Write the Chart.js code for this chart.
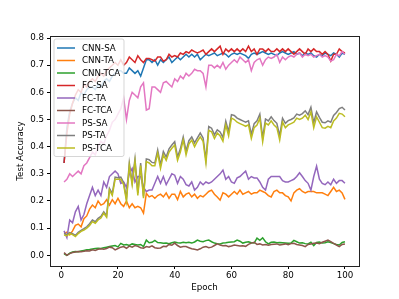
<!DOCTYPE html>
<html>
<head>
<meta charset="utf-8">
<script src="https://cdn.jsdelivr.net/npm/chart.js@4.4.1/dist/chart.umd.min.js"></script>
<style>
  html, body { margin: 0; padding: 0; background: #fff; }
</style>
</head>
<body>
<canvas id="accChart" width="399" height="299"></canvas>
<script>
// Test accuracy per epoch

const epochs = Array.from({ length: 100 }, (_, i) => i + 1);
const xTicks = [0, 20, 40, 60, 80, 100];
const yTicks = [0.0, 0.1, 0.2, 0.3, 0.4, 0.5, 0.6, 0.7, 0.8];

const cnnSA = [
    0.34, 0.47, 0.53, 0.56, 0.58, 0.57, 0.60, 0.59, 0.61, 0.62,
    0.62, 0.61, 0.63, 0.62, 0.64, 0.65, 0.64, 0.66, 0.67, 0.68,
    0.68, 0.67, 0.67, 0.69, 0.68, 0.67, 0.68, 0.66, 0.69, 0.72,
    0.72, 0.71, 0.72, 0.70, 0.72, 0.71, 0.72, 0.73, 0.71, 0.72,
    0.73, 0.72, 0.73, 0.74, 0.73, 0.74, 0.73, 0.74, 0.72, 0.73,
    0.74, 0.735, 0.74, 0.745, 0.735, 0.74, 0.745, 0.74, 0.73, 0.74,
    0.745, 0.74, 0.745, 0.74, 0.735, 0.725, 0.74, 0.745, 0.74, 0.745,
    0.75, 0.745, 0.74, 0.745, 0.74, 0.735, 0.745, 0.75, 0.745, 0.74,
    0.745, 0.75, 0.74, 0.745, 0.735, 0.745, 0.74, 0.745, 0.735, 0.73,
    0.74, 0.735, 0.745, 0.74, 0.735, 0.745, 0.74, 0.73, 0.745, 0.74
];
const cnnTA = [
    0.08, 0.085, 0.075, 0.09, 0.11, 0.115, 0.105, 0.135, 0.145, 0.17,
    0.185, 0.175, 0.20, 0.185, 0.19, 0.205, 0.185, 0.205, 0.19, 0.21,
    0.19, 0.18, 0.20, 0.175, 0.19, 0.175, 0.18, 0.175, 0.155, 0.228,
    0.215, 0.22, 0.21, 0.22, 0.225, 0.215, 0.23, 0.21, 0.225, 0.225,
    0.205, 0.235, 0.215, 0.225, 0.23, 0.215, 0.225, 0.21, 0.22, 0.215,
    0.225, 0.235, 0.24, 0.225, 0.215, 0.203, 0.23, 0.225, 0.215, 0.225,
    0.235, 0.225, 0.24, 0.225, 0.23, 0.235, 0.225, 0.23, 0.23, 0.24,
    0.235, 0.23, 0.22, 0.215, 0.235, 0.24, 0.23, 0.23, 0.22, 0.215,
    0.20, 0.23, 0.24, 0.245, 0.235, 0.23, 0.235, 0.235, 0.235, 0.23,
    0.23, 0.23, 0.225, 0.22, 0.235, 0.25, 0.235, 0.24, 0.23, 0.206
];
const cnnTCA = [
    0.005, 0.0, 0.008, 0.012, 0.014, 0.013, 0.016, 0.018, 0.020, 0.021,
    0.023, 0.025, 0.026, 0.025, 0.028, 0.030, 0.032, 0.034, 0.036, 0.031,
    0.044, 0.038, 0.040, 0.036, 0.042, 0.040, 0.038, 0.040, 0.032, 0.056,
    0.046, 0.048, 0.055, 0.047, 0.046, 0.044, 0.045, 0.043, 0.046, 0.049,
    0.046, 0.045, 0.048, 0.046, 0.048, 0.045, 0.049, 0.056, 0.052, 0.050,
    0.054, 0.056, 0.050, 0.045, 0.043, 0.042, 0.045, 0.046, 0.048, 0.049,
    0.050, 0.056, 0.052, 0.045, 0.048, 0.050, 0.046, 0.045, 0.063, 0.055,
    0.064, 0.050, 0.042, 0.048, 0.049, 0.046, 0.047, 0.046, 0.045, 0.044,
    0.045, 0.055, 0.050, 0.045, 0.046, 0.043, 0.042, 0.048, 0.036, 0.047,
    0.049, 0.045, 0.046, 0.050, 0.047, 0.043, 0.040, 0.038, 0.047, 0.050
];
const fcSA = [
    0.34, 0.45, 0.52, 0.56, 0.59, 0.61, 0.60, 0.63, 0.62, 0.64,
    0.65, 0.64, 0.66, 0.67, 0.66, 0.68, 0.69, 0.70, 0.71, 0.70,
    0.72, 0.70, 0.71, 0.73, 0.72, 0.71, 0.735, 0.72, 0.71, 0.725,
    0.725, 0.72, 0.715, 0.73, 0.73, 0.715, 0.72, 0.74, 0.73, 0.735,
    0.73, 0.745, 0.74, 0.75, 0.745, 0.756, 0.75, 0.745, 0.75, 0.756,
    0.74, 0.75, 0.76, 0.75, 0.76, 0.77, 0.74, 0.76, 0.75, 0.76,
    0.75, 0.76, 0.75, 0.76, 0.75, 0.77, 0.75, 0.76, 0.74, 0.76,
    0.76, 0.75, 0.76, 0.75, 0.75, 0.76, 0.75, 0.76, 0.75, 0.76,
    0.75, 0.74, 0.75, 0.76, 0.75, 0.74, 0.76, 0.75, 0.76, 0.75,
    0.75, 0.74, 0.75, 0.74, 0.715, 0.74, 0.74, 0.76, 0.75, 0.745
];
const fcTA = [
    0.09, 0.065, 0.13, 0.12, 0.16, 0.18, 0.13, 0.15, 0.19, 0.22,
    0.25, 0.22, 0.24, 0.22, 0.27, 0.25, 0.29, 0.30, 0.31, 0.30,
    0.265, 0.27, 0.25, 0.30, 0.32, 0.27, 0.29, 0.29, 0.25, 0.235,
    0.24, 0.24, 0.265, 0.29, 0.265, 0.29, 0.26, 0.28, 0.30, 0.295,
    0.265, 0.29, 0.28, 0.26, 0.255, 0.27, 0.24, 0.25, 0.27, 0.26,
    0.27, 0.265, 0.27, 0.28, 0.29, 0.30, 0.314, 0.28, 0.29, 0.27,
    0.265, 0.285, 0.29, 0.30, 0.31, 0.28, 0.29, 0.285, 0.285, 0.27,
    0.25, 0.24, 0.28, 0.29, 0.29, 0.29, 0.29, 0.275, 0.27, 0.27,
    0.275, 0.28, 0.29, 0.304, 0.29, 0.275, 0.265, 0.24, 0.29, 0.328,
    0.28, 0.265, 0.26, 0.27, 0.26, 0.28, 0.265, 0.275, 0.275, 0.265
];
const fcTCA = [
    0.010, 0.0, 0.006, 0.010, 0.012, 0.014, 0.013, 0.015, 0.017, 0.016,
    0.020, 0.018, 0.022, 0.024, 0.022, 0.025, 0.030, 0.028, 0.020, 0.025,
    0.030, 0.032, 0.026, 0.034, 0.030, 0.036, 0.033, 0.028, 0.026, 0.032,
    0.030, 0.035, 0.028, 0.026, 0.027, 0.033, 0.032, 0.040, 0.037, 0.045,
    0.036, 0.030, 0.032, 0.032, 0.028, 0.024, 0.022, 0.020, 0.024, 0.030,
    0.032, 0.028, 0.030, 0.036, 0.042, 0.038, 0.035, 0.036, 0.032, 0.034,
    0.038, 0.036, 0.034, 0.035, 0.033, 0.040, 0.045, 0.048, 0.040, 0.042,
    0.038, 0.040, 0.037, 0.040, 0.041, 0.042, 0.038, 0.040, 0.042, 0.039,
    0.043, 0.044, 0.040, 0.038, 0.036, 0.032, 0.040, 0.042, 0.044, 0.045,
    0.043, 0.048, 0.052, 0.056, 0.050, 0.044, 0.038, 0.032, 0.040, 0.042
];
const psSA = [
    0.27, 0.28, 0.30, 0.29, 0.30, 0.31, 0.30, 0.33, 0.34, 0.36,
    0.38, 0.37, 0.40, 0.42, 0.41, 0.44, 0.46, 0.49, 0.50, 0.52,
    0.54, 0.58, 0.50, 0.57, 0.60, 0.59, 0.58, 0.62, 0.635, 0.535,
    0.54, 0.62, 0.62, 0.61, 0.60, 0.635, 0.64, 0.63, 0.62, 0.65,
    0.64, 0.66, 0.65, 0.67, 0.66, 0.67, 0.685, 0.68, 0.68, 0.67,
    0.62, 0.70, 0.70, 0.69, 0.70, 0.69, 0.71, 0.685, 0.70, 0.71,
    0.72, 0.71, 0.73, 0.72, 0.71, 0.72, 0.68, 0.71, 0.72, 0.725,
    0.70, 0.72, 0.73, 0.725, 0.73, 0.74, 0.71, 0.73, 0.72, 0.73,
    0.735, 0.73, 0.74, 0.745, 0.73, 0.74, 0.735, 0.74, 0.73, 0.735,
    0.74, 0.73, 0.735, 0.73, 0.715, 0.72, 0.74, 0.735, 0.75, 0.74
];
const psTA = [
    0.080, 0.076, 0.084, 0.080, 0.073, 0.085, 0.092, 0.098, 0.105, 0.116,
    0.130, 0.124, 0.136, 0.143, 0.160, 0.146, 0.246, 0.228, 0.288, 0.286,
    0.288, 0.268, 0.208, 0.340, 0.268, 0.355, 0.230, 0.340, 0.218, 0.355,
    0.352, 0.342, 0.340, 0.388, 0.332, 0.382, 0.362, 0.392, 0.406, 0.418,
    0.362, 0.392, 0.436, 0.384, 0.422, 0.436, 0.414, 0.432, 0.450, 0.432,
    0.352, 0.474, 0.468, 0.444, 0.462, 0.454, 0.434, 0.494, 0.455, 0.518,
    0.515, 0.505, 0.500, 0.495, 0.490, 0.495, 0.445, 0.485, 0.495, 0.520,
    0.432, 0.502, 0.495, 0.510, 0.496, 0.486, 0.440, 0.505, 0.486, 0.496,
    0.500, 0.506, 0.520, 0.516, 0.522, 0.532, 0.518, 0.545, 0.488, 0.528,
    0.508, 0.490, 0.488, 0.495, 0.490, 0.515, 0.526, 0.540, 0.545, 0.535
];
const psTCA = [
    0.075, 0.072, 0.080, 0.076, 0.069, 0.080, 0.088, 0.093, 0.100, 0.110,
    0.124, 0.118, 0.130, 0.137, 0.155, 0.140, 0.240, 0.220, 0.280, 0.280,
    0.280, 0.260, 0.200, 0.330, 0.260, 0.345, 0.220, 0.330, 0.210, 0.345,
    0.340, 0.330, 0.330, 0.376, 0.320, 0.370, 0.350, 0.380, 0.394, 0.406,
    0.350, 0.380, 0.424, 0.370, 0.410, 0.424, 0.400, 0.420, 0.436, 0.420,
    0.340, 0.460, 0.455, 0.430, 0.450, 0.440, 0.420, 0.480, 0.440, 0.505,
    0.500, 0.490, 0.485, 0.480, 0.475, 0.480, 0.430, 0.470, 0.480, 0.505,
    0.418, 0.487, 0.480, 0.495, 0.480, 0.470, 0.424, 0.490, 0.470, 0.480,
    0.485, 0.490, 0.505, 0.500, 0.505, 0.516, 0.500, 0.528, 0.470, 0.510,
    0.490, 0.470, 0.468, 0.475, 0.470, 0.495, 0.505, 0.523, 0.520, 0.510
];

const seriesNames = ['CNN-SA', 'CNN-TA', 'CNN-TCA', 'FC-SA', 'FC-TA', 'FC-TCA', 'PS-SA', 'PS-TA', 'PS-TCA'];
const seriesData = [cnnSA, cnnTA, cnnTCA, fcSA, fcTA, fcTCA, psSA, psTA, psTCA];
const seriesColors = ['#1f77b4', '#ff7f0e', '#2ca02c', '#d62728', '#9467bd', '#8c564b', '#e377c2', '#7f7f7f', '#bcbd22'];

Chart.defaults.font.family = '"DejaVu Sans", sans-serif';
Chart.defaults.font.size = 8.7;
Chart.defaults.color = '#000';

// frame around the plot area (all four spines)
const framePlugin = {
    id: 'frame',
    afterDatasetsDraw(chart) {
        const { ctx, chartArea: a } = chart;
        ctx.save();
        ctx.strokeStyle = '#222';
        ctx.lineWidth = 1;
        ctx.strokeRect(Math.round(a.left) + 0.5, Math.round(a.top) + 0.5,
            Math.round(a.right - a.left), Math.round(a.bottom - a.top));
        ctx.restore();
    }
};

// matplotlib-like legend box in the upper left corner
const legendBoxPlugin = {
    id: 'legendBox',
    afterDraw(chart) {
        const { ctx, chartArea: a } = chart;
        const x0 = a.left + 4, y0 = a.top + 3;
        const w = 70, rowH = 12.5, h = rowH * seriesNames.length + 5;
        ctx.save();
        ctx.beginPath();
        ctx.roundRect(x0, y0, w, h, 2);
        ctx.fillStyle = 'rgba(255,255,255,0.82)';
        ctx.fill();
        ctx.strokeStyle = 'rgba(204,204,204,0.8)';
        ctx.lineWidth = 1;
        ctx.stroke();
        ctx.font = '8.7px "DejaVu Sans"';
        ctx.textBaseline = 'middle';
        chart.data.datasets.forEach((ds, i) => {
            const y = y0 + 9 + i * rowH;
            ctx.beginPath();
            ctx.moveTo(x0 + 3, y);
            ctx.lineTo(x0 + 21, y);
            ctx.strokeStyle = ds.borderColor;
            ctx.lineWidth = 1.5;
            ctx.stroke();
            ctx.fillStyle = '#000';
            ctx.fillText(ds.label, x0 + 28, y + 0.5);
        });
        ctx.restore();
    }
};

const ctx = document.getElementById('accChart').getContext('2d');
new Chart(ctx, {
    type: 'line',
    data: {
        datasets: seriesNames.map((name, i) => ({
            label: name,
            data: epochs.map((e, j) => ({ x: e, y: seriesData[i][j] })),
            borderColor: seriesColors[i],
            backgroundColor: seriesColors[i],
            borderWidth: 1.5,
            pointRadius: 0,
            tension: 0,
            fill: false,
            order: -i
        }))
    },
    options: {
        responsive: false,
        animation: false,
        layout: { padding: { left: 0, top: 36, right: 40, bottom: 0 } },
        plugins: {
            legend: { display: false },
            tooltip: { enabled: false }
        },
        scales: {
            x: {
                type: 'linear',
                min: -3.95,
                max: 104.95,
                afterBuildTicks: axis => { axis.ticks = xTicks.map(v => ({ value: v })); },
                afterFit: axis => { axis.height = 33; },
                ticks: { autoSkip: false, maxRotation: 0, padding: 2, callback: v => String(v) },
                grid: { display: true, drawOnChartArea: false, drawTicks: true, tickLength: 3, tickColor: '#000' },
                border: { display: false },
                title: { display: true, text: 'Epoch', padding: { top: 0, bottom: 6 } }
            },
            y: {
                min: -0.0394,
                max: 0.8075,
                afterBuildTicks: axis => { axis.ticks = yTicks.map(v => ({ value: v })); },
                afterFit: axis => { axis.width = 50; },
                ticks: { autoSkip: false, padding: 3, callback: v => v.toFixed(1) },
                grid: { display: true, drawOnChartArea: false, drawTicks: true, tickLength: 3, tickColor: '#000' },
                border: { display: false },
                title: { display: true, text: 'Test Accuracy', padding: { top: 16, bottom: 0 } }
            }
        }
    },
    plugins: [framePlugin, legendBoxPlugin]
});
</script>
</body>
</html>
